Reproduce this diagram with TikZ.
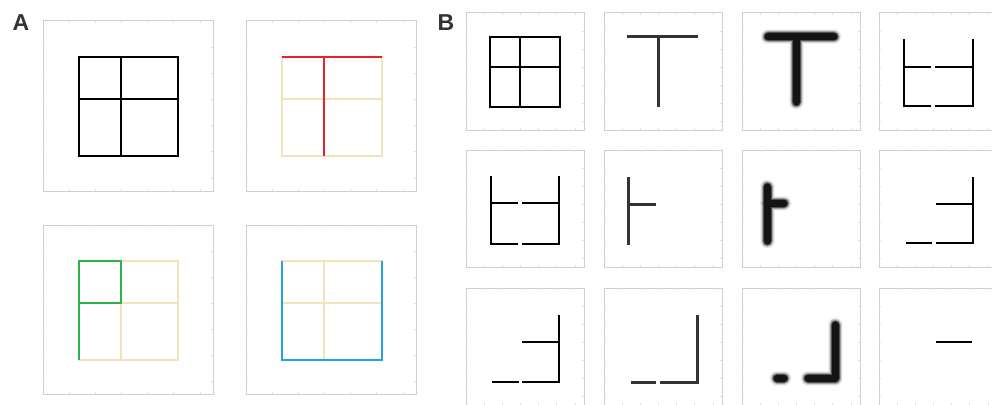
\documentclass[tikz,border=0pt]{standalone}
\usepackage{fontspec}
\setsansfont{Liberation Sans}
\usepackage{tikz}
\usetikzlibrary{positioning}
\definecolor{gridbeige}{HTML}{F1E4BC}
\definecolor{cutred}{HTML}{E8212B}
\definecolor{cutgreen}{HTML}{2FB24C}
\definecolor{cutblue}{HTML}{20A3E3}
\definecolor{framegray}{HTML}{CFCFCF}
\definecolor{tickgray}{HTML}{E0E0E0}
\tikzset{
  frame/.style={draw=framegray, line width=1pt},
  ticks/.style={draw=tickgray, line width=0.8pt},
  thinline/.style={draw=black, line width=2pt},
  midline/.style={draw=black!80, line width=3pt},
  faded/.style={draw=gridbeige, line width=1.6pt},
  panel/.style={font=\sffamily\bfseries\fontsize{23}{23}\selectfont, text=black!80}
}
% frame with faint ticks: x, y, width, height
\newcommand{\plotframe}[4]{%
  \draw[frame] (#1,#2) rectangle ++(#3,#4);
  \foreach \k in {1,...,6}{
    \draw[ticks] (#1+\k*#3/6.5,#2) -- ++(0,2);
    \draw[ticks] (#1+\k*#3/6.5,#2+#4) -- ++(0,-2);
    \draw[ticks] (#1,#2+\k*#4/6.5) -- ++(2,0);
    \draw[ticks] (#1+#3,#2+\k*#4/6.5) -- ++(-2,0);
  }}
% blurred stroke, whole shape per layer
\newcommand{\blurstroke}[1]{%
  \draw[line width=15pt, black!5, line cap=round, line join=round] #1;
  \draw[line width=13pt, black!16, line cap=round, line join=round] #1;
  \draw[line width=11pt, black!38, line cap=round, line join=round] #1;
  \draw[line width=9pt, black!68, line cap=round, line join=round] #1;
  \draw[line width=7pt, black!92, line cap=round, line join=round] #1;}

\begin{document}
\begin{tikzpicture}[x=1pt, y=-1pt]
  \clip (0,0) rectangle (992,404);
  \fill[white] (0,0) rectangle (992,404);

  % panel A
  \node[panel] (labA) at (21,23) {A};
  \plotframe{43}{21}{170}{170}
  \plotframe{246}{21}{170}{170}
  \plotframe{43}{225}{170}{169}
  \plotframe{246}{225}{170}{169}

  \draw[thinline] (79,57) rectangle (178,156);
  \draw[thinline] (121,57) -- (121,156);
  \draw[thinline] (79,99) -- (178,99);

  \draw[faded] (282,57) rectangle (382,156);
  \draw[faded] (282,99) -- (382,99);
  \draw[cutred, line width=2pt] (282,57) -- (382,57);
  \draw[cutred, line width=2pt] (324,57) -- (324,156);

  \draw[faded] (79,261) rectangle (178,360);
  \draw[faded] (121,261) -- (121,360);
  \draw[faded] (79,303) -- (178,303);
  \draw[cutgreen, line width=2pt] (79,360) -- (79,261) -- (121,261) -- (121,303) -- (79,303);

  \draw[faded] (282,261) rectangle (382,360);
  \draw[faded] (324,261) -- (324,360);
  \draw[faded] (282,303) -- (382,303);
  \draw[cutblue, line width=2pt] (282,261) -- (282,360) -- (382,360) -- (382,261);

  % panel B
  \node[panel] (labB) at (446,23) {B};
  \foreach \bx in {466,604,742,879}
    \foreach \by in {13,150,288}
      \plotframe{\bx}{\by}{118}{117};

  % row 1
  \begin{scope}[shift={(466,13)}]
    \draw[thinline] (24,24) rectangle (94,94);
    \draw[thinline] (54,24) -- (54,94);
    \draw[thinline] (24,54) -- (94,54);
  \end{scope}
  \begin{scope}[shift={(604,13)}]
    \draw[midline] (23,24) -- (94,24);
    \draw[midline] (54,24) -- (54,94);
  \end{scope}
  \begin{scope}[shift={(742,13)}]
    \blurstroke{(26,24) -- (92,24) (54,24) -- (54,89)}
  \end{scope}
  \begin{scope}[shift={(879,13)}]
    \draw[thinline] (52,93) -- (25,93) -- (25,26);
    \draw[thinline] (56,93) -- (94,93) -- (94,26);
    \draw[thinline] (25,54) -- (52,54);
    \draw[thinline] (56,54) -- (94,54);
  \end{scope}

  % row 2
  \begin{scope}[shift={(466,150)}]
    \draw[thinline] (52,94) -- (25,94) -- (25,26);
    \draw[thinline] (56,94) -- (93,94) -- (93,26);
    \draw[thinline] (25,53) -- (52,53);
    \draw[thinline] (56,53) -- (93,53);
  \end{scope}
  \begin{scope}[shift={(604,150)}]
    \draw[midline] (24,27) -- (24,95);
    \draw[midline] (24,54) -- (52,54);
  \end{scope}
  \begin{scope}[shift={(742,150)}]
    \blurstroke{(25,37) -- (25,91) (25,53) -- (42,53)}
  \end{scope}
  \begin{scope}[shift={(879,150)}]
    \draw[thinline] (94,27) -- (94,93) -- (57,93);
    \draw[thinline] (27,93) -- (53,93);
    \draw[thinline] (57,54) -- (94,54);
  \end{scope}

  % row 3
  \begin{scope}[shift={(466,288)}]
    \draw[thinline] (93,27) -- (93,94) -- (56,94);
    \draw[thinline] (26,94) -- (53,94);
    \draw[thinline] (56,54) -- (93,54);
  \end{scope}
  \begin{scope}[shift={(604,288)}]
    \draw[midline] (93,27) -- (93,94) -- (56,94);
    \draw[midline] (27,94) -- (52,94);
  \end{scope}
  \begin{scope}[shift={(742,288)}]
    \blurstroke{(93,37) -- (93,90) -- (66,90) (35,90) -- (42,90)}
  \end{scope}
  \begin{scope}[shift={(879,288)}]
    \draw[thinline] (57,54) -- (93,54);
  \end{scope}
\end{tikzpicture}
\end{document}
